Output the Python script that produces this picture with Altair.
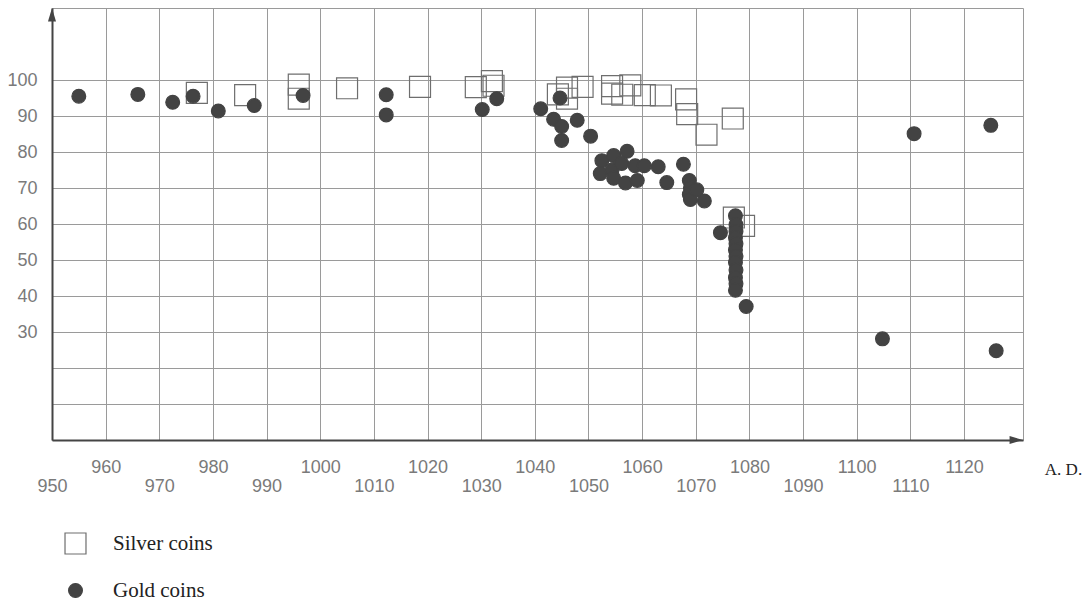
import altair as alt
import pandas as pd

# ---- data ----
silver_year = [977, 986, 996, 996, 1005, 1018.6, 1029, 1032, 1032.3, 1044.3, 1046, 1046,
               1048.9, 1054.4, 1054.4, 1056.3, 1057.8, 1060.5, 1063.5, 1068.2, 1068.4,
               1072, 1076.9, 1077.1, 1079]
silver_fineness = [96.4, 95.8, 98.7, 94.8, 97.7, 98.1, 98.0, 99.7, 98.4, 96.0, 94.8, 97.9,
                   98.1, 98.3, 96.2, 95.9, 98.5, 95.8, 95.7, 94.6, 90.5,
                   84.8, 89.3, 61.8, 59.5]

gold_year = [955, 966, 972.5, 976.3, 981, 987.7, 996.8, 1012.3, 1012.3, 1030.2, 1032.9,
             1041.1, 1043.5, 1044.7, 1045, 1047.9, 1045, 1050.4,
             1052.5, 1052.2, 1054.7, 1054.4, 1054.7, 1057.2, 1056.9, 1056.2, 1058.7, 1059.1,
             1060.4, 1063, 1064.6, 1067.7, 1068.8, 1069, 1068.8, 1069, 1070.2, 1071.6,
             1074.6, 1077.4, 1077.5, 1077.5, 1077.4, 1077.5, 1077.4, 1077.5, 1077.4, 1077.5,
             1077.4, 1077.5, 1077.4, 1079.4, 1104.8, 1110.7, 1125, 1126]
gold_fineness = [95.5, 96.0, 93.8, 95.5, 91.4, 92.9, 95.7, 95.9, 90.3, 91.8, 94.8,
                 92.0, 89.1, 95.0, 87.1, 88.8, 83.2, 84.4,
                 77.6, 74.0, 79.0, 75.0, 72.7, 80.2, 71.4, 76.8, 76.2, 72.1,
                 76.2, 75.9, 71.5, 76.6, 72.1, 70.0, 68.2, 66.8, 69.5, 66.4,
                 57.6, 62.3, 59.8, 57.9, 56.2, 54.5, 52.8, 51.0, 49.3, 47.2,
                 45.1, 43.4, 41.6, 37.1, 28.1, 85.1, 87.4, 24.8]

coin_types = ["Silver coins", "Gold coins"]
x_ticks = list(range(950, 1121, 10))
y_ticks = list(range(10, 101, 10))
x_domain = [950, 1131]
y_domain = [0, 120]

df = pd.DataFrame({
    "year": silver_year + gold_year,
    "fineness": silver_fineness + gold_fineness,
    "coin": [coin_types[0]] * len(silver_year) + [coin_types[1]] * len(gold_year),
})

x_scale = alt.Scale(domain=x_domain, nice=False, zero=False)
y_scale = alt.Scale(domain=y_domain, nice=False)

TICK_FONT = "Liberation Sans, Arial, sans-serif"
SERIF = "Liberation Serif, Times New Roman, serif"

legend = alt.Legend(title=None, orient="none", legendX=12, legendY=524,
                    labelFont=SERIF, labelFontSize=21, labelColor="#222222",
                    labelOffset=26, rowPadding=22, symbolStrokeWidth=1.2)

points = alt.Chart(df).mark_point(opacity=1, strokeWidth=1.2).encode(
    x=alt.X("year:Q", scale=x_scale,
            axis=alt.Axis(values=x_ticks, format="d", grid=True, ticks=False,
                          labelExpr="datum.value % 20 == 0 ? datum.label : ['', datum.label]",
                          labelFlush=False, labelOverlap=False, labelPadding=18,
                          labelBaseline="top", labelLineHeight=19,
                          title="A. D.", titleX=1011, titleY=29, titleAlign="center",
                          titleBaseline="middle", titleFont=SERIF, titleFontSize=17,
                          titleFontWeight="normal", titleColor="#222222")),
    y=alt.Y("fineness:Q", scale=y_scale,
            axis=alt.Axis(values=y_ticks, grid=True, ticks=False, title=None,
                          labelExpr="datum.value >= 30 ? datum.label : ''",
                          labelPadding=15)),
    shape=alt.Shape("coin:N", scale=alt.Scale(domain=coin_types, range=["square", "circle"]), legend=legend),
    fill=alt.Fill("coin:N", scale=alt.Scale(domain=coin_types, range=["transparent", "#434343"]), legend=legend),
    stroke=alt.Stroke("coin:N", scale=alt.Scale(domain=coin_types, range=["#6e6e6e", "#434343"]), legend=legend),
    size=alt.Size("coin:N", scale=alt.Scale(domain=coin_types, range=[440, 190]), legend=legend),
)

arrow_up = alt.Chart(pd.DataFrame({"year": [x_domain[0]], "fineness": [y_domain[1]]})).mark_point(
    shape="M0,0L0.6,2L-0.6,2Z", filled=True, color="#444444", opacity=1, size=180
).encode(x=alt.X("year:Q", scale=x_scale), y=alt.Y("fineness:Q", scale=y_scale))

arrow_right = alt.Chart(pd.DataFrame({"year": [x_domain[1]], "fineness": [y_domain[0]]})).mark_point(
    shape="M0,0L-2,-0.6L-2,0.6Z", filled=True, color="#444444", opacity=1, size=180
).encode(x=alt.X("year:Q", scale=x_scale), y=alt.Y("fineness:Q", scale=y_scale))

chart = alt.layer(points, arrow_up, arrow_right).properties(
    width=971, height=432,
    autosize=alt.AutoSizeParams(type="none"),
    padding={"left": 44, "top": 0, "right": 60, "bottom": 163},
).configure_view(
    stroke="#9a9a9a", strokeWidth=1
).configure_axis(
    gridColor="#9a9a9a", gridWidth=1, gridOpacity=1,
    domainColor="#444444", domainWidth=2,
    labelFont=TICK_FONT, labelFontSize=18, labelColor="#7a7a7a",
)

chart.save("out.html", embed_options={"renderer": "svg", "actions": False})
